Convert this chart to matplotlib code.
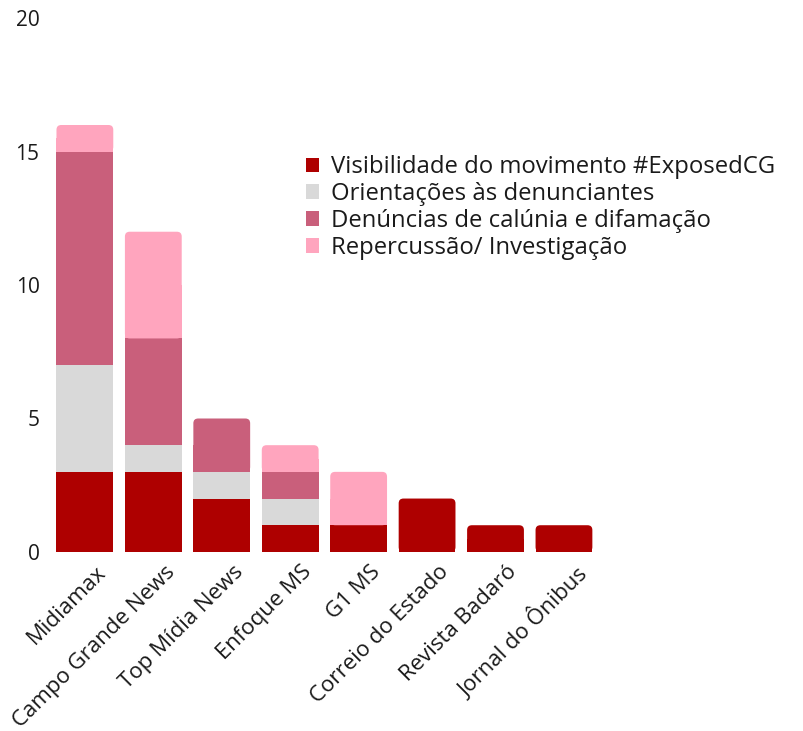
import numpy as np
import matplotlib.pyplot as plt
import matplotlib.transforms as mtransforms
from matplotlib.patches import FancyBboxPatch, Patch

plt.rcParams['font.family'] = ['Open Sans', 'DejaVu Sans']

sites = ['Midiamax', 'Campo Grande News', 'Top Mídia News', 'Enfoque MS',
         'G1 MS', 'Correio do Estado', 'Revista Badaró', 'Jornal do Ônibus']
series_names = ['Visibilidade do movimento #ExposedCG', 'Orientações às denunciantes',
                'Denúncias de calúnia e difamação', 'Repercussão/ Investigação']
visibilidade = [3, 3, 2, 1, 1, 2, 1, 1]
orientacoes = [4, 1, 1, 1, 0, 0, 0, 0]
denuncias = [8, 4, 2, 1, 0, 0, 0, 0]
repercussao = [1, 4, 0, 1, 2, 0, 0, 0]
colors = ['#AE0000', '#D9D9D9', '#C95F7B', '#FFA5BE']

data = np.array([visibilidade, orientacoes, denuncias, repercussao], dtype=float)

fig = plt.figure(figsize=(8.04, 7.31), dpi=100)
ax = fig.add_axes([0.063, 0.245, 0.681, 0.730])

width = 0.83
x = np.arange(len(sites))
totals = data.sum(axis=0)
bottom = np.zeros(len(sites))
aspect = 68.4 / (534 / 20)  # pixels per x-unit over pixels per y-unit
for vals, col in zip(data, colors):
    for i, v in enumerate(vals):
        if v <= 0:
            continue
        top = bottom[i] + v
        if top >= totals[i]:
            # top segment: rounded top corners
            ax.add_patch(FancyBboxPatch((x[i] - width / 2, bottom[i]), width, v,
                                        boxstyle='round,pad=0,rounding_size=0.07',
                                        mutation_aspect=aspect, fc=col, ec='none'))
            ax.add_patch(plt.Rectangle((x[i] - width / 2, bottom[i]), width, v / 2,
                                       fc=col, ec='none'))
        else:
            ax.add_patch(plt.Rectangle((x[i] - width / 2, bottom[i]), width, v,
                                       fc=col, ec='none'))
    bottom += vals

ax.set_xlim(-0.5, len(sites) - 0.5)
ax.set_ylim(0, 20)
ax.set_yticks([0, 5, 10, 15, 20])
ax.set_xticks(x)
ax.set_xticklabels(sites, rotation=45, ha='right', rotation_mode='anchor')
ax.tick_params(length=0, colors='#1a1a1a')
ax.tick_params(axis='x', labelsize=16, pad=7)
ax.tick_params(axis='y', labelsize=15, pad=8)
for s in ax.spines.values():
    s.set_visible(False)

# nudge the rotated labels a bit to the right
shift = mtransforms.ScaledTranslation(11 / 100, 0, fig.dpi_scale_trans)
for lbl in ax.get_xticklabels():
    lbl.set_transform(lbl.get_transform() + shift)

handles = [Patch(fc=c, ec='none') for c in colors]
fig.legend(handles, series_names, loc='upper left', bbox_to_anchor=(0.354, 0.817),
           frameon=False, fontsize=17.2, handlelength=0.55, handleheight=0.55,
           handletextpad=0.5, labelspacing=0.12, labelcolor='#1a1a1a')

fig.savefig('out.png', dpi=100)
